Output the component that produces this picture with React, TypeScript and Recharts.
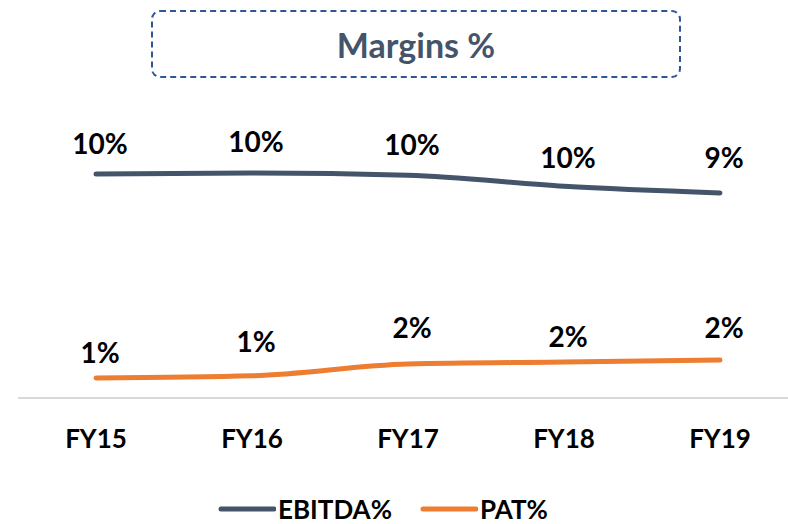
import { LineChart, Line, XAxis, YAxis, Legend, LabelList } from "recharts";

const years = ["FY15", "FY16", "FY17", "FY18", "FY19"];
const ebitda = [10.1, 10.15, 10.05, 9.55, 9.25];
const pat = [0.9, 1.0, 1.53, 1.62, 1.71];

const data = years.map((y, i) => ({ year: y, ebitda: ebitda[i], pat: pat[i] }));

const FONT = "Lato, 'Open Sans', sans-serif";
const SLATE = "#44546A";
const ORANGE = "#ED7D31";

// label gaps above each point, per series
const ebitdaGap = [20, 21, 20, 18, 25];
const patGap = [15, 24, 26, 15, 22];

const makeLabel = (gaps: number[]) => (props: any) => {
  const { x, y, value, index } = props;
  return (
    <text
      x={x + 4}
      y={y - gaps[index]}
      textAnchor="middle"
      fontFamily={FONT}
      fontWeight={700}
      fontSize={28}
      fill="#000"
    >
      {Math.round(value) + "%"}
    </text>
  );
};

const LegendContent = () => {
  const items = [
    { name: "EBITDA%", color: SLATE },
    { name: "PAT%", color: ORANGE },
  ];
  return (
    <div style={{ display: "flex", gap: 28, marginLeft: 218, height: 30 }}>
      {items.map((it) => (
        <div key={it.name} style={{ display: "flex", alignItems: "center", gap: 2 }}>
          <svg width={58} height={10}>
            <line x1={3} y1={5} x2={56} y2={5} stroke={it.color} strokeWidth={5} strokeLinecap="round" />
          </svg>
          <span style={{ fontFamily: FONT, fontWeight: 700, fontSize: 26, lineHeight: "30px", color: "#000" }}>
            {it.name}
          </span>
        </div>
      ))}
    </div>
  );
};

export default function App() {
  return (
    <div
      style={{
        position: "absolute",
        left: 0,
        top: 0,
        width: 788,
        height: 524,
        overflow: "hidden",
        background: "#fff",
      }}
    >
      <div
        style={{
          position: "absolute",
          left: 151,
          top: 10,
          width: 526,
          height: 64,
          border: "2px dashed #2F5597",
          borderRadius: 9,
          display: "flex",
          alignItems: "center",
          justifyContent: "center",
          fontFamily: FONT,
          fontWeight: 700,
          fontSize: 34,
          color: SLATE,
        }}
      >
        Margins %
      </div>

      <LineChart
        width={800}
        height={524}
        data={data}
        margin={{ top: 132, right: 2, left: 18, bottom: 0 }}
      >
        <XAxis
          dataKey="year"
          axisLine={{ stroke: "#D9D9D9", strokeWidth: 2 }}
          tickLine={false}
          height={96}
          tickMargin={26}
          padding={{ left: 78, right: 78 }}
          tick={{ fontFamily: FONT, fontWeight: 700, fontSize: 26, fill: "#000" }}
          interval={0}
        />
        <YAxis hide domain={[0, 12]} />
        <Legend
          verticalAlign="bottom"
          content={<LegendContent />}
          wrapperStyle={{ position: "absolute", top: 494, left: 0, width: 788, height: 30 }}
        />
        <Line
          type="monotone"
          dataKey="ebitda"
          stroke={SLATE}
          strokeWidth={5}
          strokeLinecap="round"
          dot={false}
          isAnimationActive={false}
        >
          <LabelList dataKey="ebitda" content={makeLabel(ebitdaGap)} />
        </Line>
        <Line
          type="monotone"
          dataKey="pat"
          stroke={ORANGE}
          strokeWidth={5}
          strokeLinecap="round"
          dot={false}
          isAnimationActive={false}
        >
          <LabelList dataKey="pat" content={makeLabel(patGap)} />
        </Line>
      </LineChart>
    </div>
  );
}
